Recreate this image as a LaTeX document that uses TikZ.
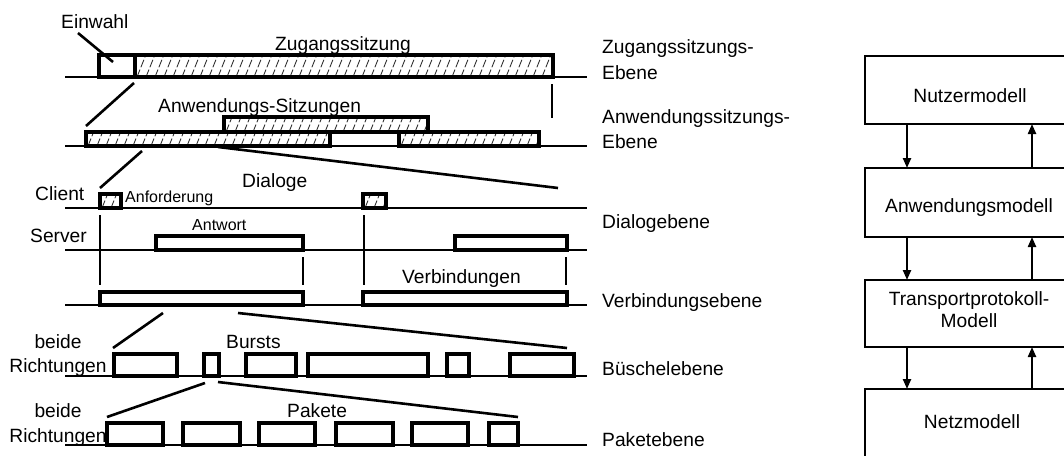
\documentclass[tikz,border=0pt]{standalone}
\usepackage{fontspec}
\setmainfont{Liberation Sans}
\usetikzlibrary{arrows.meta}

\newcommand\bigfont{\fontsize{19.2}{25}\selectfont}
\newcommand\smallfont{\fontsize{16}{20}\selectfont}
% timeline box: [extra style]{x1}{y1}{x2}{y2}{name}
\newcommand\tlbox[6][]{%
  \node[tbox,#1,minimum width={#4pt-#2pt},minimum height={#5pt-#3pt}] (#6) at (#2,#3) {};}

\begin{document}
\begin{tikzpicture}[x=1pt,y=-1pt,
  lvl/.style={line width=2pt},
  tbox/.style={draw,line width=3.2pt,fill=white,inner sep=0pt,outer sep=0pt,anchor=north west},
  hatched/.style={path picture={
      \foreach \k in {0,...,54}
        \draw[line width=0.9pt,black!80,dash pattern=on 8pt off 2.5pt]
          ([xshift=\k*9pt-16pt]path picture bounding box.south west) -- ++(12pt,30pt);}},
  leader/.style={line width=2.6pt},
  tick/.style={line width=1.7pt},
  lbl/.style={font=\bigfont,inner sep=0pt,anchor=base west},
  clbl/.style={font=\bigfont,inner sep=0pt,anchor=base},
  slbl/.style={font=\smallfont,inner sep=0pt,anchor=base west},
  model/.style={draw,line width=2.2pt,minimum width=208pt,inner sep=0pt,outer sep=0pt,anchor=north west},
  flow/.style={line width=2.2pt,-{Triangle[width=8pt,length=10pt]}}]

\useasboundingbox (0,0) rectangle (1064,455);

% ---------- access session level ----------
\draw[lvl] (65,77) -- (587,77);
\tlbox{99}{55}{135}{77}{ein}
\tlbox[hatched]{135}{55}{553}{77}{zug}
\node[lbl] (tEin) at (61,28) {Einwahl};
\node[clbl] (tZug) at (343,50) {Zugangssitzung};
\coordinate (e1) at (78,33); \coordinate (e2) at (113,62);
\draw[leader] (e1) -- (e2);

% zoom lines to the application level
\coordinate (a1) at (134,83); \coordinate (a2) at (86,126);
\draw[leader] (a1) -- (a2);
\coordinate (v1) at (552,84); \coordinate (v2) at (552,118);
\draw[tick] (v1) -- (v2);

% ---------- application session level ----------
\draw[lvl] (65,146) -- (587,146);
\tlbox[hatched]{86}{132}{330}{146}{as1}
\tlbox[hatched]{224}{117}{428}{132}{as2}
\tlbox[hatched]{399}{132}{539}{146}{as3}
\node[lbl] (tAS) at (158,112) {Anwendungs-Sitzungen};

\coordinate (d1) at (142,151); \coordinate (d2) at (100,188);
\draw[leader] (d1) -- (d2);
\coordinate (d3) at (218,147); \coordinate (d4) at (558,188);
\draw[leader] (d3) -- (d4);

% ---------- dialogue level ----------
\draw[lvl] (65,208) -- (587,208);
\draw[lvl] (65,250) -- (587,250);
\tlbox[hatched]{100}{194}{121}{208}{rq1}
\tlbox[hatched]{363}{194}{386}{208}{rq2}
\tlbox{156}{236}{303}{250}{rs1}
\tlbox{455}{236}{567}{250}{rs2}
\node[lbl] (tCl) at (35,200) {Client};
\node[lbl] (tSv) at (30,242) {Server};
\node[slbl] (tReq) at (125,202) {Anforderung};
\node[slbl] (tRes) at (192,230) {Antwort};
\node[lbl] (tDia) at (242,187) {Dialoge};
\draw[tick] (100,215) -- (100,285);
\draw[tick] (364,215) -- (364,285);
\draw[tick] (303,257) -- (303,285);
\draw[tick] (566,257) -- (566,285);

% ---------- connection level ----------
\draw[lvl] (65,305) -- (587,305);
\tlbox{100}{292}{303}{305}{vb1}
\tlbox{363}{292}{567}{305}{vb2}
\node[lbl] (tVb) at (402,283) {Verbindungen};

\coordinate (b1) at (163,313); \coordinate (b2) at (113,348);
\draw[leader] (b1) -- (b2);
\coordinate (b3) at (238,313); \coordinate (b4) at (567,348);
\draw[leader] (b3) -- (b4);

% ---------- burst level ----------
\draw[lvl] (65,376) -- (587,376);
\tlbox{114}{354}{177}{376}{bu1}
\tlbox{204}{354}{219}{376}{bu2}
\tlbox{246}{354}{296}{376}{bu3}
\tlbox{308}{354}{428}{376}{bu4}
\tlbox{447}{354}{469}{376}{bu5}
\tlbox{510}{354}{574}{376}{bu6}
\node[clbl] (tBd1) at (58,348) {beide};
\node[clbl] (tRi1) at (58,372) {Richtungen};
\node[lbl] (tBu) at (226,348) {Bursts};

\coordinate (p1) at (205,383); \coordinate (p2) at (107,417);
\draw[leader] (p1) -- (p2);
\coordinate (p3) at (218,382); \coordinate (p4) at (518,417);
\draw[leader] (p3) -- (p4);

% ---------- packet level ----------
\draw[lvl] (65,445) -- (587,445);
\tlbox{107}{423}{163}{445}{pk1}
\tlbox{183}{423}{240}{445}{pk2}
\tlbox{259}{423}{315}{445}{pk3}
\tlbox{336}{423}{393}{445}{pk4}
\tlbox{412}{423}{468}{445}{pk5}
\tlbox{489}{423}{518}{445}{pk6}
\node[clbl] (tBd2) at (58,417) {beide};
\node[clbl] (tRi2) at (58,442) {Richtungen};
\node[lbl] (tPk) at (287,417) {Pakete};

% ---------- level names ----------
\node[lbl] (n1a) at (602,53) {Zugangssitzungs-};
\node[lbl] (n1b) at (602,79) {Ebene};
\node[lbl] (n2a) at (602,123) {Anwendungssitzungs-};
\node[lbl] (n2b) at (602,148) {Ebene};
\node[lbl] (n3) at (602,228) {Dialogebene};
\node[lbl] (n4) at (602,307) {Verbindungsebene};
\node[lbl] (n5) at (602,375) {Büschelebene};
\node[lbl] (n6) at (602,446) {Paketebene};

% ---------- model stack ----------
\begin{scope}
\clip (0,0) rectangle (1064,455);
\node[model,minimum height=68pt] (m1) at (865,56) {};
\node[model,minimum height=69pt] (m2) at (865,168) {};
\node[model,minimum height=67pt] (m3) at (865,280) {};
\node[model,minimum height=68pt] (m4) at (865,389) {};
\end{scope}
\node[clbl] (mt1) at (970,102) {Nutzermodell};
\node[clbl] (mt2) at (969,212) {Anwendungsmodell};
\node[clbl] (mt3a) at (969,305) {Transportprotokoll-};
\node[clbl] (mt3b) at (969,327) {Modell};
\node[clbl] (mt4) at (972,428) {Netzmodell};

\foreach \u/\l in {m1/m2,m2/m3,m3/m4}{
  \draw[flow] ([xshift=42pt]\u.south west) -- ([xshift=42pt]\l.north west);
  \draw[flow] ([xshift=167pt]\l.north west) -- ([xshift=167pt]\u.south west);
}
\end{tikzpicture}
\end{document}
